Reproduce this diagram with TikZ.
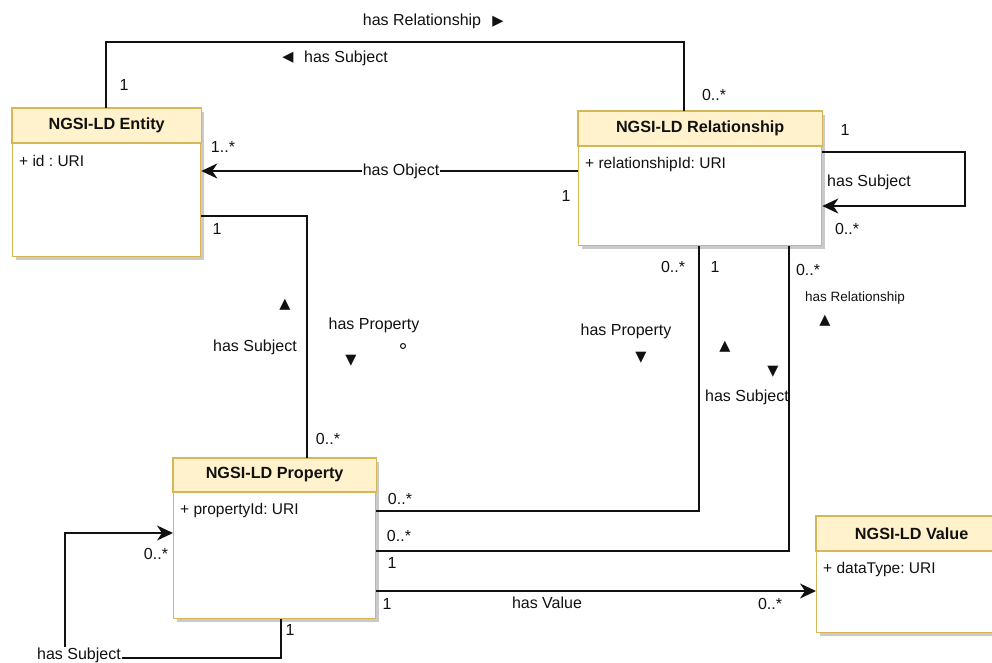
\documentclass[tikz,border=0pt]{standalone}
\usepackage{fontspec}
\setmainfont{Liberation Sans}
\newfontfamily\symfont{DejaVu Sans}
\usetikzlibrary{arrows.meta,calc,shadows}
\definecolor{hdrfill}{HTML}{FFF2CC}
\definecolor{hdrline}{HTML}{D6B656}
\definecolor{ink}{HTML}{111111}
\frenchspacing

\tikzset{
  classbox/.style={draw=hdrline, line width=1.3pt, fill=white, anchor=north west,
    inner sep=0pt,
    drop shadow={shadow xshift=3pt, shadow yshift=-3pt, fill=black!35, opacity=0.6}},
  conn/.style={line width=1.9pt, draw=ink},
  arr/.style={conn, -{Stealth[length=16pt,width=15pt,inset=5pt]}},
  lbl/.style={font=\fontsize{16}{19}\selectfont, inner sep=0pt, text=ink},
  onlbl/.style={lbl, fill=white, inner sep=1pt},
  smalllbl/.style={font=\fontsize{13.5}{16}\selectfont, inner sep=0pt, text=ink},
  tri/.style={font=\symfont\fontsize{14.5}{16}\selectfont, inner sep=0pt, text=ink},
  title/.style={font=\bfseries\fontsize{16.2}{19}\selectfont, inner sep=0pt, text=ink},
  attr/.style={font=\fontsize{15.5}{18}\selectfont, inner sep=0pt, anchor=west, text=ink},
}

% UML class: name, x, y, width, height, header height, title, attribute
\newcommand{\umlclass}[8]{%
  \node[classbox, minimum width=#4, minimum height=#5] (#1) at (#2,#3) {};
  \path[fill=hdrfill, draw=hdrline, line width=1.3pt]
    (#1.north west) rectangle ($(#1.north east)+(0,#6)$);
  \node[title] (#1-title) at ($(#1.north)+(0,#6/2)$) {#7};
  \node[attr] (#1-attr) at ($(#1.north west)+(7,#6+18)$) {#8};
}

\begin{document}
\begin{tikzpicture}[x=1pt, y=-1pt]
\path[use as bounding box, clip] (0,0) rectangle (992,663);

% classes
\umlclass{ent}{12}{108}{188}{148}{35}{NGSI-LD Entity}{+ id : URI}
\umlclass{rel}{578}{111}{243}{134}{35}{NGSI-LD Relationship}{+ relationshipId: URI}
\umlclass{prop}{173}{458}{202}{160}{34}{NGSI-LD Property}{+ propertyId: URI}
\umlclass{val}{816}{516}{190}{116}{35}{NGSI-LD Value}{+ dataType: URI}

% Entity <-> Relationship (top loop)
\draw[conn] ($(ent.north west)+(94,0)$) |- ($(rel.north west)+(106,-69)$)
  -- ($(rel.north west)+(106,0)$);
\node[lbl] (l-hasrel-top) at (422,21) {has Relationship};
\node[tri] (t-right-top) at (498,22) {▶};
\node[tri] (t-left-top) at (288,58) {◀};
\node[lbl] (l-hassubj-top) at (346,58) {has Subject};
\node[lbl] (m-ent-top) at (124,85) {1};
\node[lbl] (m-rel-top) at (714,95) {0..*};

% Relationship -> Entity (has Object)
\draw[arr] ($(rel.north west)+(0,60)$) -- ($(ent.north east)+(0,63)$);
\node[onlbl] (l-hasobj) at (401,171) {has Object};
\node[lbl] (m-ent-obj) at (223,147) {1..*};
\node[lbl] (m-rel-obj) at (566,196) {1};

% Relationship self loop
\draw[arr] ($(rel.north east)+(0,41)$) -- ++(143,0) |- ($(rel.north east)+(0,95)$);
\node[lbl] (l-rel-self) at (869,182) {has Subject};
\node[lbl] (m-rel-self-a) at (845,130) {1};
\node[lbl] (m-rel-self-b) at (847,229) {0..*};

% Entity <-> Property
\draw[conn] ($(ent.north east)+(0,108)$) -| ($(prop.north west)+(134,0)$);
\node[lbl] (m-ent-prop) at (217,229) {1};
\node[tri] (t-up-ep) at (285,305) {▲};
\node[lbl] (l-ep-subj) at (255,347) {has Subject};
\node[lbl] (l-ep-prop) at (374,325) {has Property};
\node[circle, draw=ink, line width=1pt, inner sep=0pt, minimum size=5pt] (dot-ep) at (403,346) {};
\node[tri] (t-down-ep) at (351,361) {▼};
\node[lbl] (m-prop-ent) at (328,439) {0..*};

% Property <-> Relationship (has Property)
\draw[conn] ($(prop.north east)+(0,53)$) -| ($(rel.south west)+(121,0)$);
\node[lbl] (m-prop-rel-a) at (400,499) {0..*};
\node[lbl] (m-rel-prop-a) at (673,267) {0..*};
\node[lbl] (l-pr-prop) at (626,331) {has Property};
\node[tri] (t-down-pr) at (641,358) {▼};

% Property <-> Relationship (has Relationship / has Subject)
\draw[conn] ($(prop.north east)+(0,93)$) -| ($(rel.south west)+(211,0)$);
\node[lbl] (m-prop-rel-b) at (399,536) {0..*};
\node[lbl] (m-prop-rel-c) at (392,563) {1};
\node[lbl] (m-rel-prop-b) at (715,267) {1};
\node[lbl] (m-rel-prop-c) at (808,270) {0..*};
\node[smalllbl] (l-pr-rel) at (855,298) {has Relationship};
\node[tri] (t-up-pr1) at (825,321) {▲};
\node[tri] (t-up-pr2) at (725,347) {▲};
\node[tri] (t-down-pr2) at (773,372) {▼};
\node[lbl] (l-pr-subj) at (747,397) {has Subject};

% Property -> Value
\draw[arr] ($(prop.north east)+(0,133)$) -- ($(val.north west)+(0,75)$);
\node[lbl] (m-prop-val) at (387,604) {1};
\node[lbl] (l-hasval) at (547,603) {has Value};
\node[lbl] (m-val-prop) at (770,604) {0..*};

% Property self loop
\draw[arr] ($(prop.south west)+(108,0)$) -- ++(0,39)
  -| ($(prop.north west)+(-108,75)$) -- ($(prop.north west)+(0,75)$);
\node[onlbl] (l-prop-self) at (79,655) {has Subject};
\node[lbl] (m-prop-self-a) at (290,630) {1};
\node[lbl] (m-prop-self-b) at (156,554) {0..*};
\end{tikzpicture}
\end{document}
